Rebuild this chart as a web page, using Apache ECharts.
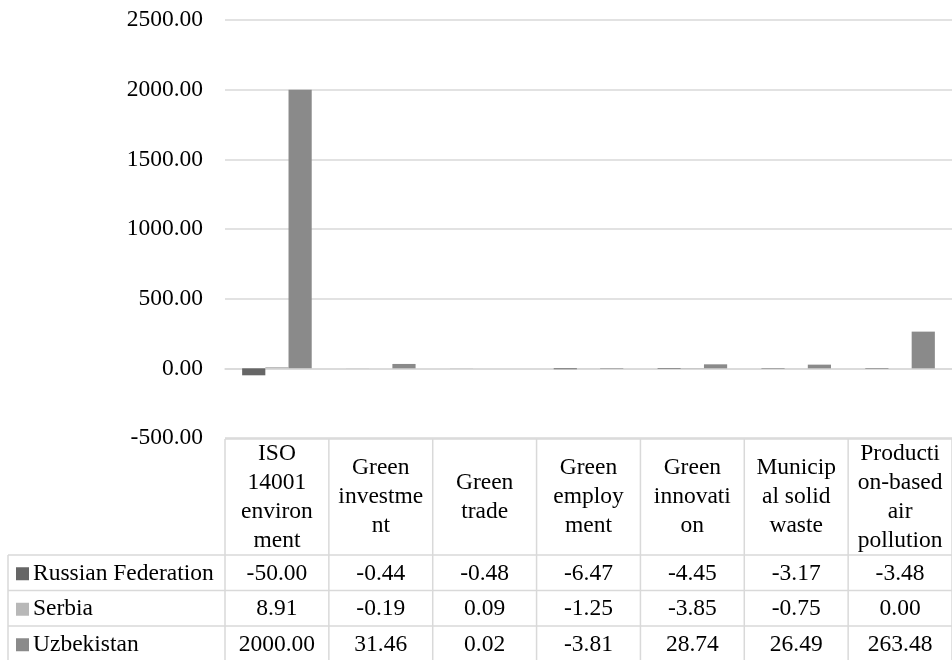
<!DOCTYPE html>
<html>
<head>
<meta charset="utf-8">
<script src="https://cdn.jsdelivr.net/npm/echarts@6/dist/echarts.min.js"></script>
<style>
  html, body { margin: 0; padding: 0; background: #fff; }
  #main { width: 952px; height: 660px; }
</style>
</head>
<body>
<div id="main"></div>
<script>
  // categories (full names) and the wrapped labels shown in the table header
  var categories = ['ISO 14001 environment', 'Green investment', 'Green trade', 'Green employment',
    'Green innovation', 'Municipal solid waste', 'Production-based air pollution'];
  var headerLabels = ['ISO\n14001\nenviron\nment', 'Green\ninvestme\nnt', 'Green\ntrade', 'Green\nemploy\nment',
    'Green\ninnovati\non', 'Municip\nal solid\nwaste', 'Producti\non-based\nair\npollution'];

  var seriesNames = ['Russian Federation', 'Serbia', 'Uzbekistan'];
  var russia = [-50.00, -0.44, -0.48, -6.47, -4.45, -3.17, -3.48];
  var serbia = [8.91, -0.19, 0.09, -1.25, -3.85, -0.75, 0.00];
  var uzbekistan = [2000.00, 31.46, 0.02, -3.81, 28.74, 26.49, 263.48];

  var yTicks = [-500, 0, 500, 1000, 1500, 2000, 2500];

  var colors = ['#666666', '#b8b8b8', '#8a8a8a'];
  var FONT = "'Liberation Serif', 'Times New Roman', serif";
  var FS = 23.5;
  var lineColor = '#d9d9d9';

  var chart = echarts.init(document.getElementById('main'));

  var allSeries = [russia, serbia, uzbekistan];

  var option = {
    animation: false,
    color: colors,
    grid: { left: 225, right: 0, top: 20, bottom: 222, containLabel: false },
    xAxis: {
      type: 'category',
      data: categories,
      axisLine: { show: true, onZero: true, lineStyle: { color: lineColor, width: 1.5 } },
      axisTick: { show: false },
      axisLabel: { show: false }
    },
    yAxis: {
      type: 'value',
      min: yTicks[0],
      max: yTicks[yTicks.length - 1],
      interval: 500,
      axisLine: { show: false },
      axisTick: { show: false },
      axisLabel: {
        margin: 22,
        fontFamily: FONT,
        fontSize: FS,
        color: '#000',
        formatter: function (v) { return v.toFixed(2); }
      },
      splitLine: { lineStyle: { color: lineColor, width: 1.5 } }
    },
    series: seriesNames.map(function (name, i) {
      return {
        name: name,
        type: 'bar',
        data: allSeries[i],
        barGap: '0%',
        barCategoryGap: '33%'
      };
    })
  };
  chart.setOption(option);

  // data table drawn under the plot
  function drawTable() {
    var c0 = chart.convertToPixel({ xAxisIndex: 0 }, 0);
    var c1 = chart.convertToPixel({ xAxisIndex: 0 }, 1);
    var colW = c1 - c0;
    var x0 = c0 - colW / 2;
    var xEnd = x0 + colW * categories.length;
    var top = chart.convertToPixel({ yAxisIndex: 0 }, yTicks[0]) + 1;
    var headerBottom = top + 116;
    var rowH = 35.5;
    var leftX = 8;
    var bottom = 670; // last row runs past the bottom edge
    var els = [];
    var ls = { stroke: lineColor, lineWidth: 1.5 };

    function line(x1, y1, x2, y2) {
      els.push({ type: 'line', shape: { x1: x1, y1: y1, x2: x2, y2: y2 }, style: ls, silent: true });
    }
    function text(t, x, y, align) {
      els.push({
        type: 'text', x: x, y: y, silent: true,
        style: {
          text: t, align: align || 'center', verticalAlign: 'middle',
          fontFamily: FONT, fontSize: FS, lineHeight: 29, fill: '#000'
        }
      });
    }

    // horizontal lines
    line(x0, top, xEnd, top);
    for (var r = 0; r < seriesNames.length; r++) {
      var y = headerBottom + r * rowH;
      line(leftX, y, xEnd, y);
    }
    // vertical lines
    line(leftX, headerBottom, leftX, bottom);
    for (var c = 0; c <= categories.length; c++) {
      line(x0 + c * colW, top, x0 + c * colW, bottom);
    }
    // header
    headerLabels.forEach(function (lab, i) {
      text(lab, x0 + (i + 0.5) * colW, (top + headerBottom) / 2);
    });
    // rows
    seriesNames.forEach(function (name, s) {
      var cy = headerBottom + (s + 0.5) * rowH + 1;
      els.push({
        type: 'rect', silent: true,
        shape: { x: leftX + 8, y: cy - 6.5, width: 13, height: 13 },
        style: { fill: colors[s] }
      });
      text(name, leftX + 25, cy, 'left');
      allSeries[s].forEach(function (v, i) {
        text(v.toFixed(2), x0 + (i + 0.5) * colW, cy);
      });
    });
    chart.setOption({ graphic: { elements: els } });
  }
  drawTable();
</script>
</body>
</html>
